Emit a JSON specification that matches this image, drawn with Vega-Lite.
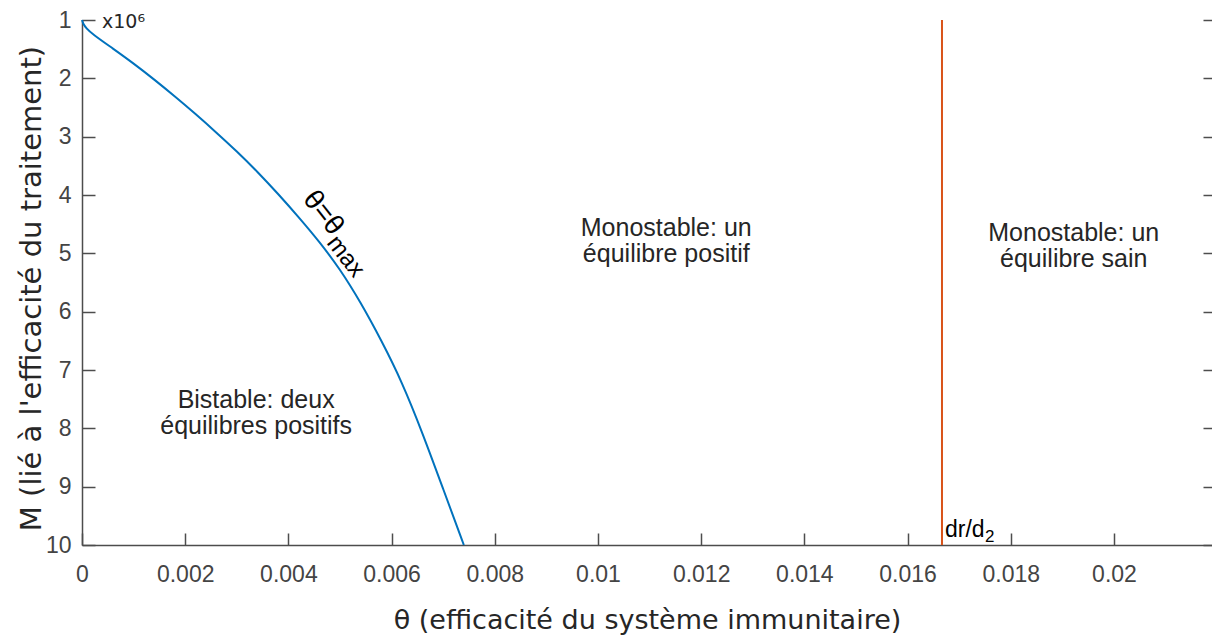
{
  "$schema": "https://vega.github.io/schema/vega-lite/v6.json",
  "width": 1130,
  "height": 525,
  "autosize": {"type": "none"},
  "padding": {"left": 82, "top": 20, "right": 0, "bottom": 94},
  "background": "white",
  "config": {
    "view": {"stroke": null},
    "axis": {
      "grid": false,
      "labelFont": "Liberation Sans",
      "labelFontSize": 23,
      "labelColor": "#444444",
      "tickColor": "#4d4d4d",
      "domainColor": "#4d4d4d",
      "tickWidth": 1.5,
      "domainWidth": 1.5,
      "titleFont": "DejaVu Sans",
      "titleFontWeight": "normal",
      "titleColor": "#262626"
    }
  },
  "resolve": {"axis": {"y": "independent"}},
  "layer": [
    {
      "data": {"values": [
        {"theta": 0, "M": 1},
        {"theta": 0.00002, "M": 1.06},
        {"theta": 0.00008, "M": 1.14},
        {"theta": 0.0002, "M": 1.24},
        {"theta": 0.0006, "M": 1.49},
        {"theta": 0.001, "M": 1.745},
        {"theta": 0.0014, "M": 2.02},
        {"theta": 0.0018, "M": 2.31},
        {"theta": 0.0022, "M": 2.61},
        {"theta": 0.0026, "M": 2.925},
        {"theta": 0.003, "M": 3.25},
        {"theta": 0.0034, "M": 3.6},
        {"theta": 0.0038, "M": 3.98},
        {"theta": 0.0042, "M": 4.38},
        {"theta": 0.0046, "M": 4.8},
        {"theta": 0.005, "M": 5.27},
        {"theta": 0.0054, "M": 5.84},
        {"theta": 0.0058, "M": 6.49},
        {"theta": 0.0062, "M": 7.2},
        {"theta": 0.0066, "M": 8.08},
        {"theta": 0.007, "M": 9.04},
        {"theta": 0.0074, "M": 10}
      ]},
      "mark": {"type": "line", "color": "#0072bd", "strokeWidth": 2, "interpolate": "basis"},
      "encoding": {
        "x": {
          "field": "theta", "type": "quantitative",
          "scale": {"domain": [0, 0.0219], "nice": false, "zero": false},
          "axis": {
            "title": "θ (efficacité du système immunitaire)",
            "titleFontSize": 27,
            "values": [0, 0.002, 0.004, 0.006, 0.008, 0.01, 0.012, 0.014, 0.016, 0.018, 0.02],
            "format": "~g",
            "tickSize": -12,
            "labelPadding": 30,
            "labelFlush": false,
            "titleX": 565,
            "titleY": 83,
            "titleAlign": "center",
            "titleBaseline": "alphabetic"
          }
        },
        "y": {
          "field": "M", "type": "quantitative",
          "scale": {"domain": [1, 10], "reverse": true, "nice": false, "zero": false},
          "axis": {
            "title": "M (lié à l'efficacité du traitement)",
            "titleFontSize": 29,
            "values": [1, 2, 3, 4, 5, 6, 7, 8, 9, 10],
            "format": "d",
            "tickSize": -13,
            "labelPadding": 24,
            "labelFlush": false,
            "titleAngle": -90,
            "titleX": -42,
            "titleY": 268,
            "titleAlign": "center",
            "titleBaseline": "alphabetic"
          }
        }
      }
    },
    {
      "data": {"values": [{"theta": 0.016667}]},
      "mark": {"type": "rule", "color": "#d95319", "strokeWidth": 2},
      "encoding": {
        "x": {"field": "theta", "type": "quantitative"}
      }
    },
    {
      "data": {"values": [
        {"theta": 0.003375, "M": 7.652, "label": ["Bistable: deux", "équilibres positifs"]},
        {"theta": 0.011323, "M": 4.703, "label": ["Monostable: un", "équilibre positif"]},
        {"theta": 0.01922, "M": 4.784, "label": ["Monostable: un", "équilibre sain"]}
      ]},
      "mark": {"type": "text", "font": "Liberation Sans", "fontSize": 25, "lineHeight": 26, "color": "#262626", "align": "center", "baseline": "alphabetic"},
      "encoding": {
        "x": {"field": "theta", "type": "quantitative"},
        "y": {
          "field": "M", "type": "quantitative",
          "axis": {
            "orient": "right",
            "title": null,
            "labels": false,
            "domain": false,
            "values": [1, 2, 3, 4, 5, 6, 7, 8, 9, 10],
            "tickSize": -9
          }
        },
        "text": {"field": "label"}
      }
    },
    {
      "data": {"values": [{"theta": 0.004387, "M": 3.99, "label": "θ=θ"}]},
      "mark": {"type": "text", "font": "Liberation Sans", "fontSize": 28, "color": "#000000", "align": "left", "baseline": "middle", "angle": 52},
      "encoding": {
        "x": {"field": "theta", "type": "quantitative"},
        "y": {"field": "M", "type": "quantitative", "axis": null},
        "text": {"field": "label"}
      }
    },
    {
      "data": {"values": [{"theta": 0.004387, "M": 3.99, "label": "max"}]},
      "mark": {"type": "text", "font": "Liberation Sans", "fontSize": 24, "color": "#000000", "align": "left", "baseline": "middle", "angle": 52, "dx": 49, "dy": 9},
      "encoding": {
        "x": {"field": "theta", "type": "quantitative"},
        "y": {"field": "M", "type": "quantitative", "axis": null},
        "text": {"field": "label"}
      }
    },
    {
      "data": {"values": [{"theta": 0.016667, "M": 10, "label": "dr/d"}]},
      "mark": {"type": "text", "font": "Liberation Sans", "fontSize": 23, "color": "#000000", "align": "left", "baseline": "alphabetic", "dx": 3, "dy": -8},
      "encoding": {
        "x": {"field": "theta", "type": "quantitative"},
        "y": {"field": "M", "type": "quantitative", "axis": null},
        "text": {"field": "label"}
      }
    },
    {
      "data": {"values": [{"theta": 0.016667, "M": 10, "label": "2"}]},
      "mark": {"type": "text", "font": "Liberation Sans", "fontSize": 17, "color": "#000000", "align": "left", "baseline": "alphabetic", "dx": 43, "dy": -3},
      "encoding": {
        "x": {"field": "theta", "type": "quantitative"},
        "y": {"field": "M", "type": "quantitative", "axis": null},
        "text": {"field": "label"}
      }
    },
    {
      "data": {"values": [{"theta": 0, "M": 1, "label": "x10⁶"}]},
      "mark": {"type": "text", "font": "DejaVu Sans", "fontSize": 19, "color": "#262626", "align": "left", "baseline": "alphabetic", "dx": 20, "dy": 8},
      "encoding": {
        "x": {"field": "theta", "type": "quantitative"},
        "y": {"field": "M", "type": "quantitative", "axis": null},
        "text": {"field": "label"}
      }
    }
  ]
}
